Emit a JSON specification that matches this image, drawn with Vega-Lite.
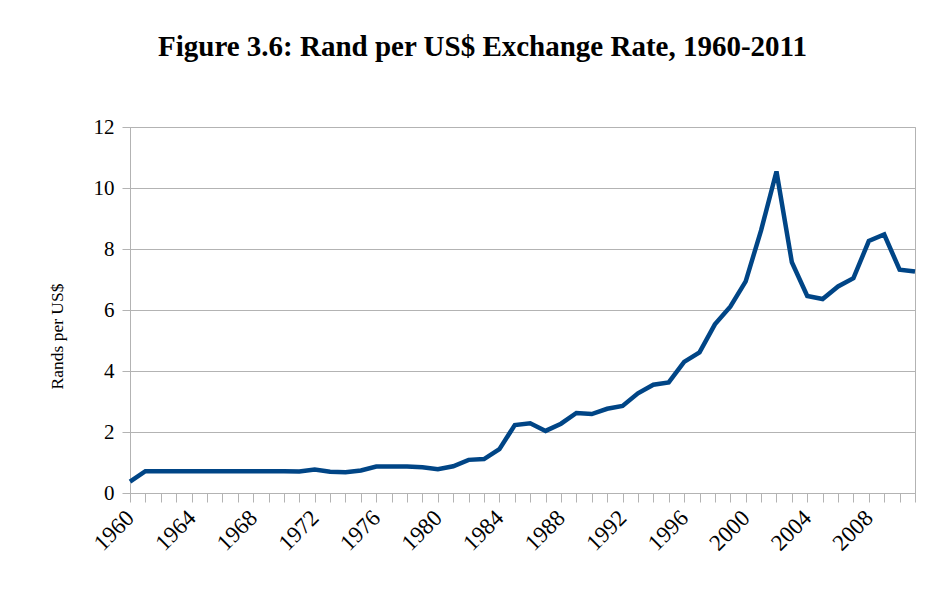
{
  "$schema": "https://vega.github.io/schema/vega-lite/v6.json",
  "width": 785,
  "height": 366,
  "autosize": {"type": "none"},
  "padding": {"left": 130, "top": 127, "right": 27, "bottom": 101},
  "background": "white",
  "title": {
    "text": "Figure 3.6: Rand per US$ Exchange Rate, 1960-2011",
    "font": "Liberation Serif",
    "fontSize": 29,
    "fontWeight": "bold",
    "color": "#000000",
    "anchor": "middle",
    "dx": -40,
    "offset": 54
  },
  "data": {
    "values": [
      {"year": 1960, "rate": 0.37},
      {"year": 1961, "rate": 0.714},
      {"year": 1962, "rate": 0.714},
      {"year": 1963, "rate": 0.714},
      {"year": 1964, "rate": 0.714},
      {"year": 1965, "rate": 0.714},
      {"year": 1966, "rate": 0.714},
      {"year": 1967, "rate": 0.714},
      {"year": 1968, "rate": 0.714},
      {"year": 1969, "rate": 0.714},
      {"year": 1970, "rate": 0.714},
      {"year": 1971, "rate": 0.705},
      {"year": 1972, "rate": 0.769},
      {"year": 1973, "rate": 0.694},
      {"year": 1974, "rate": 0.679},
      {"year": 1975, "rate": 0.740},
      {"year": 1976, "rate": 0.870},
      {"year": 1977, "rate": 0.870},
      {"year": 1978, "rate": 0.870},
      {"year": 1979, "rate": 0.842},
      {"year": 1980, "rate": 0.779},
      {"year": 1981, "rate": 0.878},
      {"year": 1982, "rate": 1.086},
      {"year": 1983, "rate": 1.114},
      {"year": 1984, "rate": 1.437},
      {"year": 1985, "rate": 2.229},
      {"year": 1986, "rate": 2.285},
      {"year": 1987, "rate": 2.036},
      {"year": 1988, "rate": 2.273},
      {"year": 1989, "rate": 2.623},
      {"year": 1990, "rate": 2.587},
      {"year": 1991, "rate": 2.761},
      {"year": 1992, "rate": 2.852},
      {"year": 1993, "rate": 3.268},
      {"year": 1994, "rate": 3.551},
      {"year": 1995, "rate": 3.627},
      {"year": 1996, "rate": 4.299},
      {"year": 1997, "rate": 4.608},
      {"year": 1998, "rate": 5.528},
      {"year": 1999, "rate": 6.109},
      {"year": 2000, "rate": 6.940},
      {"year": 2001, "rate": 8.609},
      {"year": 2002, "rate": 10.541},
      {"year": 2003, "rate": 7.565},
      {"year": 2004, "rate": 6.460},
      {"year": 2005, "rate": 6.359},
      {"year": 2006, "rate": 6.772},
      {"year": 2007, "rate": 7.045},
      {"year": 2008, "rate": 8.261},
      {"year": 2009, "rate": 8.474},
      {"year": 2010, "rate": 7.321},
      {"year": 2011, "rate": 7.261}
    ]
  },
  "mark": {"type": "line", "color": "#004586", "strokeWidth": 4.5, "strokeJoin": "miter"},
  "encoding": {
    "x": {
      "field": "year",
      "type": "quantitative",
      "scale": {"domain": [1960, 2011], "nice": false, "zero": false},
      "axis": {
        "title": null,
        "values": [1960,1961,1962,1963,1964,1965,1966,1967,1968,1969,1970,1971,1972,1973,1974,1975,1976,1977,1978,1979,1980,1981,1982,1983,1984,1985,1986,1987,1988,1989,1990,1991,1992,1993,1994,1995,1996,1997,1998,1999,2000,2001,2002,2003,2004,2005,2006,2007,2008,2009,2010,2011],
        "labelExpr": "datum.value % 4 === 0 && datum.value < 2011 ? format(datum.value, 'd') : ''",
        "labelAngle": -45,
        "labelAlign": "right",
        "labelBaseline": "middle",
        "labelOverlap": false,
        "labelFlush": false,
        "labelPadding": 12,
        "labelFontSize": 23,
        "grid": false,
        "tickSize": 9
      }
    },
    "y": {
      "field": "rate",
      "type": "quantitative",
      "scale": {"domain": [0, 12], "nice": false},
      "axis": {
        "title": "Rands per US$",
        "values": [0, 2, 4, 6, 8, 10, 12],
        "tickSize": 8,
        "labelPadding": 8,
        "labelFontSize": 21,
        "titlePadding": 27,
        "titleY": 209,
        "titleFontSize": 17.5,
        "titleFontWeight": "normal",
        "grid": true
      }
    }
  },
  "config": {
    "font": "Liberation Serif",
    "view": {"stroke": "#b3b3b3", "strokeWidth": 1},
    "axis": {
      "labelFont": "Liberation Serif",
      "titleFont": "Liberation Serif",
      "labelColor": "#000000",
      "titleColor": "#000000",
      "domainColor": "#b3b3b3",
      "tickColor": "#b3b3b3",
      "gridColor": "#b3b3b3",
      "domainWidth": 1,
      "tickWidth": 1,
      "gridWidth": 1
    }
  }
}
